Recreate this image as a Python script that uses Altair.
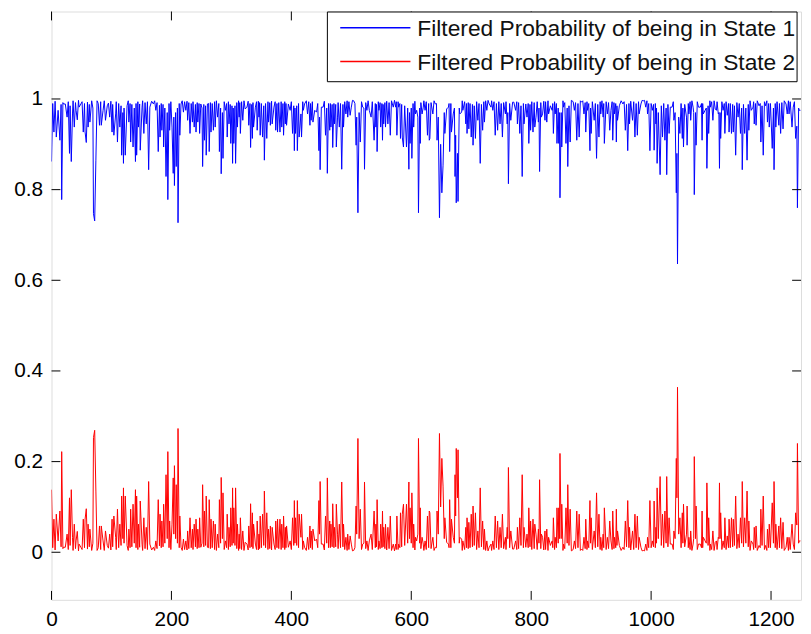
import altair as alt
import pandas as pd

# Filtered probability of State 2 (time index, value)
seg1 = [(0, .138), (2, .010), (4, .073), (6, .005), (8, .084), (11, .025), (14, .091), (16, .012), (17, .222),
        (19, .008), (20, .011), (23, .011), (26, .040), (28, .006), (30, .120), (31, .015), (33, .138), (35, .033),
        (36, .004), (38, .062), (40, .008), (41, .025), (43, .046), (45, .003), (46, .018), (49, .011), (51, .006),
        (53, .073), (55, .010), (56, .073), (58, .096), (60, .007), (61, .062), (63, .012), (64, .051), (67, .004),
        (69, .020), (70, .253), (72, .269), (74, .135), (76, .004), (78, .010), (80, .058), (82, .006), (83, .058),
        (86, .025), (88, .004), (90, .047), (93, .015), (95, .009), (97, .040), (99, .005), (101, .073), (102, .012),
        (104, .080), (107, .033), (108, .006), (110, .095), (112, .010), (114, .062), (116, .015), (117, .124),
        (119, .030), (120, .142), (121, .020), (123, .124), (126, .015), (128, .004), (129, .051), (131, .010),
        (132, .095), (134, .012), (136, .106), (138, .020), (140, .138), (141, .010), (142, .124), (144, .006),
        (145, .062), (147, .011), (148, .113), (151, .018), (152, .004), (154, .076), (156, .008), (158, .055),
        (160, .006), (162, .156), (164, .018), (167, .005), (170, .011), (172, .004), (174, .025), (176, .008),
        (178, .116), (180, .014), (181, .084), (183, .010), (184, .069), (186, .012), (187, .106), (189, .020),
        (191, .171), (193, .030), (194, .222), (196, .010), (197, .069), (199, .006), (201, .062)]
seg2 = [(203, .164), (204, .040), (205, .191), (207, .030), (208, .149), (210, .020), (211, .273), (213, .010),
        (214, .080), (216, .011), (218, .004), (220, .029), (222, .006), (224, .025), (226, .005), (227, .047),
        (229, .008), (231, .076), (233, .010), (235, .051), (236, .006), (238, .062), (240, .012), (241, .073),
        (243, .008), (244, .051), (246, .010), (247, .076), (249, .011), (251, .020), (252, .149), (254, .012),
        (255, .091), (257, .015), (258, .124), (260, .011), (262, .010), (263, .116), (265, .008), (266, .073),
        (268, .010), (270, .069), (272, .006), (273, .062), (275, .004), (277, .040), (279, .010), (280, .116),
        (282, .020), (283, .165), (285, .030), (286, .131), (288, .006), (290, .025), (292, .010), (293, .084),
        (295, .006), (296, .055), (298, .012), (299, .098), (301, .015), (302, .142), (303, .020), (304, .098),
        (306, .015), (307, .142), (309, .008), (310, .062), (312, .004), (313, .040), (314, .008), (315, .076),
        (317, .006), (319, .047), (321, .004), (323, .022), (326, .018), (328, .005), (329, .058), (331, .010),
        (332, .107), (334, .012), (335, .087), (336, .008), (337, .062), (340, .018), (342, .006), (343, .069),
        (345, .005), (346, .040), (347, .008), (348, .080), (350, .010), (352, .084), (354, .015), (355, .135),
        (357, .010), (359, .087), (361, .006), (362, .051), (364, .008), (365, .058), (367, .005), (368, .055),
        (371, .018), (373, .006), (374, .069), (376, .010), (377, .073), (379, .008), (381, .073), (383, .006),
        (384, .062), (386, .010), (387, .080), (389, .006), (390, .055), (391, .010), (392, .058), (395, .011),
        (398, .025), (400, .006), (402, .076), (404, .015), (405, .114), (406, .020), (407, .076), (409, .015),
        (410, .114), (412, .010), (413, .084), (416, .033)]
seg3 = [(417, .084), (419, .006), (420, .025), (422, .011), (425, .004), (427, .033), (429, .006), (431, .058),
        (432, .010), (433, .047), (435, .006), (436, .051), (439, .025), (442, .029), (444, .010), (446, .114),
        (447, .040), (448, .156), (450, .018), (453, .018), (455, .005), (457, .080), (459, .020), (460, .164),
        (462, .010), (464, .069), (465, .010), (466, .062), (468, .012), (469, .107), (471, .010), (472, .055),
        (474, .012), (475, .106), (477, .040), (478, .008), (480, .062), (482, .010), (484, .155), (486, .012),
        (487, .062), (489, .006), (491, .033), (493, .004), (494, .040), (496, .006), (498, .036), (500, .018),
        (502, .003), (504, .004), (506, .010), (508, .102), (509, .040), (511, .251), (513, .030), (515, .095),
        (517, .006), (519, .018), (521, .020), (522, .155), (524, .008), (526, .025), (528, .004), (530, .025),
        (533, .040), (535, .006), (538, .091), (540, .010), (541, .062), (542, .012), (543, .116), (545, .006),
        (546, .025), (548, .008), (549, .062), (551, .010), (552, .091), (553, .012), (554, .055), (556, .008),
        (557, .062), (559, .005), (561, .055), (563, .008), (565, .080), (567, .004), (570, .018), (572, .003),
        (574, .018), (575, .006), (576, .080), (578, .006), (579, .018), (581, .010), (582, .087), (584, .012),
        (585, .084), (587, .106), (589, .015), (592, .106), (594, .020), (596, .155), (597, .030), (598, .098),
        (600, .020), (601, .131), (603, .010), (604, .062), (606, .005), (607, .033), (609, .025), (611, .040),
        (612, .251), (614, .020), (615, .098), (616, .008), (618, .033), (620, .018), (621, .004), (623, .025),
        (625, .006), (627, .080), (629, .010), (630, .091)]
seg4 = [(631, .087), (633, .008), (636, .033), (638, .004), (640, .011), (642, .010), (643, .091), (645, .040),
        (647, .262), (649, .100), (651, .207), (653, .146), (655, .030), (656, .076), (659, .022), (662, .018),
        (663, .010), (664, .116), (666, .010), (667, .073), (670, .033), (672, .020), (673, .171), (674, .080),
        (675, .229), (677, .120), (678, .226), (680, .020), (681, .033), (684, .029), (685, .004), (686, .025),
        (689, .006), (691, .055), (692, .010), (693, .076), (695, .008), (696, .066), (698, .010), (700, .084),
        (702, .012), (703, .102), (705, .015), (707, .087), (709, .006), (711, .047), (713, .010), (715, .142),
        (717, .012), (719, .069), (721, .006), (722, .051), (724, .004), (726, .025), (728, .003), (730, .011),
        (733, .018), (734, .004), (736, .025), (738, .006), (740, .080), (742, .010), (744, .069), (746, .006),
        (748, .055), (750, .010), (752, .084), (754, .008), (757, .033), (758, .006), (760, .055), (761, .030),
        (762, .187), (764, .010), (766, .047), (769, .007), (771, .007), (774, .025), (776, .006), (777, .055),
        (779, .008), (781, .076), (783, .015), (785, .171), (787, .010), (788, .055), (791, .011), (793, .040),
        (795, .010), (796, .098), (798, .012), (799, .069), (801, .006), (803, .073), (805, .008), (806, .062),
        (808, .040), (810, .006), (812, .051), (813, .020), (814, .160), (816, .008), (817, .040), (819, .033),
        (821, .005), (823, .047), (824, .006), (826, .051), (828, .004), (829, .033), (832, .015), (835, .025),
        (836, .010), (837, .076), (839, .006), (840, .033), (842, .010), (843, .098), (845, .020)]
seg5 = [(846, .098), (847, .030), (848, .218), (850, .030), (851, .106), (853, .004), (854, .018), (856, .008),
        (858, .098), (860, .020), (861, .149), (863, .015), (865, .095), (867, .003), (868, .004), (870, .006),
        (872, .025), (874, .008), (876, .091), (878, .010), (880, .084), (882, .004), (884, .007), (886, .004),
        (888, .033), (890, .008), (891, .073), (893, .006), (894, .025), (896, .010), (898, .114), (899, .020),
        (900, .076), (902, .006), (905, .047), (907, .010), (909, .131), (911, .012), (913, .084), (915, .006),
        (916, .033), (918, .004), (920, .040), (921, .010), (922, .098), (925, .006), (927, .033), (929, .008),
        (931, .069), (933, .025), (935, .006), (936, .091), (938, .008), (939, .033), (941, .010), (942, .095),
        (943, .015), (944, .047), (947, .015), (950, .004), (953, .011), (955, .006), (957, .069), (959, .012),
        (961, .114), (963, .010), (964, .055), (966, .005), (969, .047), (971, .006), (973, .084), (975, .010),
        (977, .080), (979, .006), (980, .033), (983, .011), (985, .003), (987, .004), (989, .003), (991, .018),
        (993, .004), (994, .033), (996, .010), (998, .114), (1000, .010), (1002, .025), (1004, .012), (1005, .113),
        (1007, .010), (1008, .055), (1009, .020), (1010, .142), (1012, .030), (1015, .167), (1017, .015),
        (1019, .084), (1021, .010), (1023, .091), (1025, .020), (1026, .167), (1028, .012), (1030, .076),
        (1032, .018), (1035, .018), (1037, .006), (1038, .047), (1040, .030), (1042, .207), (1043, .120),
        (1044, .364), (1046, .040), (1048, .076), (1050, .010), (1052, .087), (1053, .020), (1054, .106),
        (1056, .012), (1059, .040)]
seg6 = [(1060, .102), (1062, .010), (1063, .033), (1065, .006), (1066, .047), (1068, .004), (1070, .018),
        (1071, .030), (1072, .211), (1074, .030), (1075, .102), (1077, .006), (1079, .018), (1082, .018),
        (1084, .010), (1085, .091), (1086, .010), (1087, .033), (1090, .025), (1092, .020), (1093, .153),
        (1095, .015), (1096, .076), (1098, .004), (1099, .018), (1101, .006), (1103, .047), (1105, .004),
        (1107, .022), (1109, .025), (1110, .006), (1112, .033), (1113, .030), (1114, .153), (1115, .030),
        (1116, .087), (1118, .006), (1120, .025), (1122, .010), (1123, .076), (1125, .006), (1127, .036),
        (1129, .010), (1130, .073), (1132, .010), (1134, .076), (1136, .012), (1137, .073), (1139, .015),
        (1141, .124), (1143, .008), (1145, .040), (1147, .010), (1149, .076), (1151, .020), (1152, .156),
        (1154, .012), (1156, .076), (1158, .020), (1160, .135), (1162, .012), (1163, .069), (1165, .004),
        (1167, .025), (1170, .018), (1171, .006), (1172, .055), (1174, .010), (1175, .058), (1177, .004),
        (1180, .015), (1182, .010), (1183, .095), (1185, .015), (1187, .124), (1189, .006), (1191, .015),
        (1193, .004), (1194, .051), (1196, .010), (1197, .062), (1199, .010), (1202, .109), (1204, .020),
        (1205, .156), (1207, .010), (1208, .062), (1210, .006), (1213, .058), (1214, .010), (1216, .076),
        (1218, .008), (1220, .066), (1222, .004), (1225, .011), (1227, .033), (1229, .004), (1230, .033),
        (1232, .006), (1235, .062), (1237, .018), (1239, .006), (1241, .087), (1243, .060), (1244, .240),
        (1246, .020), (1247, .025), (1249, .025)]

labels = ["Filtered Probability of being in State 1", "Filtered Probability of being in State 2"]
colors = ["#0000ff", "#ff0000"]
x_ticks = [0, 200, 400, 600, 800, 1000, 1200]
y_ticks = [0, 0.2, 0.4, 0.6, 0.8, 1]

samples = seg1 + seg2 + seg3 + seg4 + seg5 + seg6
t = [s[0] for s in samples]
p2 = [s[1] for s in samples]
p1 = [round(1 - v, 4) for v in p2]  # the two filtered probabilities sum to one

n = len(t)
df = pd.DataFrame({"t": t + t, "p": p1 + p2, "series": [labels[0]] * n + [labels[1]] * n})

W, H = 758, 595
FONT = "Liberation Sans"
xs = alt.Scale(domain=[0, 1250], nice=False, zero=False)
ys = alt.Scale(domain=[-0.105, 1.193], nice=False, zero=False)

xaxis = alt.Axis(values=x_ticks, format="d", ticks=False, tickSize=0, domain=False, grid=False,
                 labelPadding=9, labelFontSize=21, labelFont=FONT, labelColor="#000000",
                 labelFlush=False, labelOverlap=False, title=None)
yaxis = alt.Axis(values=y_ticks, format="~g", ticks=False, tickSize=0, domain=False, grid=False,
                 labelPadding=9, labelFontSize=21, labelFont=FONT, labelColor="#000000",
                 labelOverlap=False, title=None)

lines = alt.Chart(df).mark_line(strokeWidth=1, clip=True).encode(
    x=alt.X("t:Q", scale=xs, axis=xaxis),
    y=alt.Y("p:Q", scale=ys, axis=yaxis),
    color=alt.Color("series:N", scale=alt.Scale(domain=labels, range=colors), legend=None),
)

ydf = pd.DataFrame({"v": y_ticks})
xdf = pd.DataFrame({"v": x_ticks})
TL = 9
yl = alt.Chart(ydf).mark_rule(color="black", strokeWidth=1).encode(
    y=alt.Y("v:Q", scale=ys, axis=yaxis), x=alt.value(0), x2=alt.value(TL))
yr = alt.Chart(ydf).mark_rule(color="black", strokeWidth=1).encode(
    y=alt.Y("v:Q", scale=ys, axis=yaxis), x=alt.value(W - TL), x2=alt.value(W))
xb = alt.Chart(xdf).mark_rule(color="black", strokeWidth=1).encode(
    x=alt.X("v:Q", scale=xs, axis=xaxis), y=alt.value(H), y2=alt.value(H - TL))
xt = alt.Chart(xdf).mark_rule(color="black", strokeWidth=1).encode(
    x=alt.X("v:Q", scale=xs, axis=xaxis), y=alt.value(0), y2=alt.value(TL))

# legend box (drawn by hand, MATLAB style)
box_df = pd.DataFrame({"k": [0]})
box = alt.Chart(box_df).mark_rect(fill="white", stroke="black", strokeWidth=1).encode(
    x=alt.value(279), x2=alt.value(754), y=alt.value(0.5), y2=alt.value(71))

leg_layers = []
row_y = [16.5, 50.5]
for i in range(2):
    ldf = pd.DataFrame({"label": [labels[i]]})
    leg_layers.append(alt.Chart(ldf).mark_rule(color=colors[i], strokeWidth=1.5).encode(
        x=alt.value(292), x2=alt.value(363), y=alt.value(row_y[i])))
    leg_layers.append(alt.Chart(ldf).mark_text(align="left", baseline="middle", font=FONT,
                                               fontSize=23, color="#111111").encode(
        x=alt.value(370), y=alt.value(row_y[i] + 1.5), text="label:N"))

chart = alt.layer(lines, yl, yr, xb, xt, box, *leg_layers).properties(
    width=W, height=H,
    autosize=alt.AutoSizeParams(type="none"),
    padding={"left": 44, "top": 0, "right": 2, "bottom": 31},
).configure_view(stroke="black", strokeWidth=1).configure(background="white")

chart.save("out.html", embed_options={"renderer": "svg", "actions": False})
